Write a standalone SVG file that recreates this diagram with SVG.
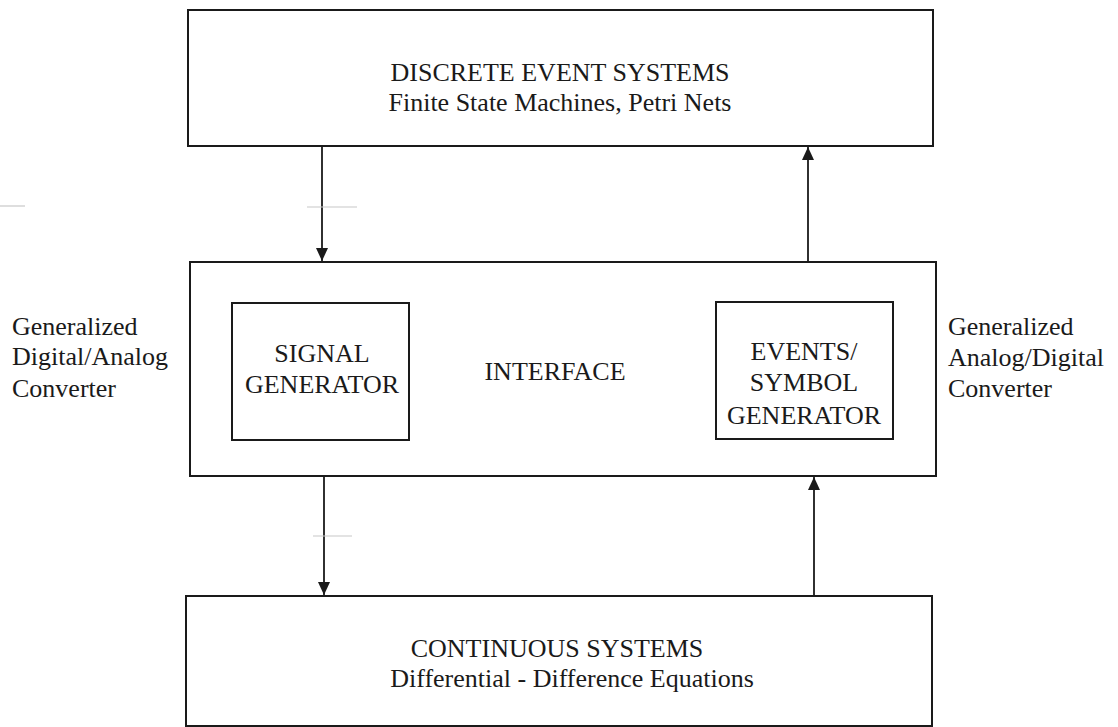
<svg xmlns="http://www.w3.org/2000/svg" width="1118" height="727" viewBox="0 0 1118 727">
  <style>
    .box { fill: none; stroke: #1a1a1a; stroke-width: 2; }
    .wire { fill: none; stroke: #1a1a1a; stroke-width: 1.8; }
    .t { font-family: "Liberation Serif", "Times New Roman", serif; font-size: 26px; fill: #1a1a1a; }
    .mid { text-anchor: middle; }
    .faint { stroke: #c8c8c8; stroke-width: 1.2; }
  </style>
  <defs>
    <marker id="head" viewBox="0 0 12 14" refX="13" refY="7" markerWidth="12" markerHeight="14" markerUnits="userSpaceOnUse" orient="auto">
      <path d="M0,1 L13,7 L0,13 Z" fill="#1a1a1a"/>
    </marker>
  </defs>
  <rect width="1118" height="727" fill="#ffffff"/>

  <g id="discrete">
    <rect class="box" x="188" y="10" width="745" height="136"/>
    <text class="t mid" x="560" y="81">DISCRETE EVENT SYSTEMS</text>
    <text class="t mid" x="560" y="111">Finite State Machines, Petri Nets</text>
  </g>

  <g id="interface">
    <rect class="box" x="190" y="262" width="746" height="214"/>
    <text class="t mid" x="555" y="380">INTERFACE</text>
  </g>

  <g id="signal-generator">
    <rect class="box" x="232" y="303" width="177" height="137"/>
    <text class="t mid" x="322" y="362">SIGNAL</text>
    <text class="t mid" x="322" y="393">GENERATOR</text>
  </g>

  <g id="symbol-generator">
    <rect class="box" x="716" y="302" width="177" height="137"/>
    <text class="t mid" x="804" y="360">EVENTS/</text>
    <text class="t mid" x="804" y="391">SYMBOL</text>
    <text class="t mid" x="804" y="424">GENERATOR</text>
  </g>

  <g id="continuous">
    <rect class="box" x="186" y="596" width="746" height="130"/>
    <text class="t mid" x="557" y="657">CONTINUOUS SYSTEMS</text>
    <text class="t mid" x="572" y="687">Differential - Difference Equations</text>
  </g>

  <g id="da-converter-label">
    <text class="t" x="12" y="335">Generalized</text>
    <text class="t" x="12" y="365">Digital/Analog</text>
    <text class="t" x="12" y="397">Converter</text>
  </g>

  <g id="ad-converter-label">
    <text class="t" x="948" y="335">Generalized</text>
    <text class="t" x="948" y="366">Analog/Digital</text>
    <text class="t" x="948" y="397">Converter</text>
  </g>

  <g id="connectors">
    <line class="wire" x1="322" y1="146" x2="322" y2="261" marker-end="url(#head)"/>
    <line class="wire" x1="808" y1="262" x2="808" y2="147" marker-end="url(#head)"/>
    <line class="wire" x1="324" y1="476" x2="324" y2="595" marker-end="url(#head)"/>
    <line class="wire" x1="814" y1="596" x2="814" y2="477" marker-end="url(#head)"/>
  </g>

  <g id="scan-marks">
    <line class="faint" x1="0" y1="206" x2="25" y2="206"/>
    <line class="faint" x1="307" y1="207" x2="357" y2="207"/>
    <line class="faint" x1="313" y1="536" x2="352" y2="536"/>
  </g>
</svg>
